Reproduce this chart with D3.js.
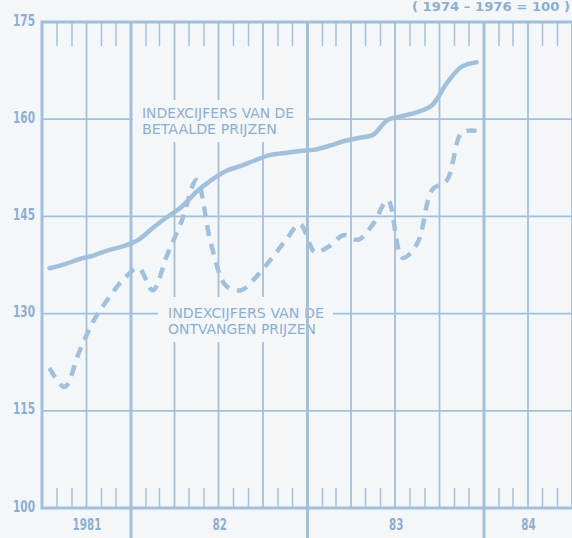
<!DOCTYPE html>
<html>
<head>
<meta charset="utf-8">
<script src="https://d3js.org/d3.v7.min.js"></script>
<style>
  body { margin: 0; background: #f4f7fa; }
  svg { display: block; }
  text { font-family: "Liberation Sans Narrow", "DejaVu Sans Condensed", sans-serif; fill: #8eaecd; }
</style>
</head>
<body>
<svg id="chart" width="572" height="538"></svg>
<script>
// months Jul 1981 .. Dec 1983
var months = ["1981-07", "1981-08", "1981-09", "1981-10", "1981-11", "1981-12",
    "1982-01", "1982-02", "1982-03", "1982-04", "1982-05", "1982-06",
    "1982-07", "1982-08", "1982-09", "1982-10", "1982-11", "1982-12",
    "1983-01", "1983-02", "1983-03", "1983-04", "1983-05", "1983-06",
    "1983-07", "1983-08", "1983-09", "1983-10", "1983-11", "1983-12"];

// indexcijfers betaalde prijzen (solid)
var paid = [137.0, 137.6, 138.4, 139.0, 139.8, 140.4,
    141.4, 143.2, 144.9, 146.5, 148.8, 150.6,
    152.0, 152.8, 153.7, 154.5, 154.8, 155.1,
    155.3, 155.9, 156.6, 157.1, 157.6, 159.9,
    160.5, 161.1, 162.2, 165.6, 168.1, 168.8];

// indexcijfers ontvangen prijzen (dashed)
var received = [121.6, 118.7, 124.1, 129.0, 132.4, 135.3,
    137.0, 133.6, 139.0, 144.3, 150.6, 140.6,
    134.3, 133.6, 135.6, 138.3, 141.2, 143.8,
    139.5, 140.4, 142.1, 141.4, 143.8, 147.5,
    138.6, 140.9, 149.1, 150.6, 157.9, 158.2];

var yTicks = [175, 160, 145, 130, 115, 100];
var yearLabels = [
    { from: "1981-07", to: "1982-01", label: "1981" },
    { from: "1982-01", to: "1983-01", label: "82" },
    { from: "1983-01", to: "1984-01", label: "83" },
    { from: "1984-01", to: "1984-07", label: "84" }
];
var subtitle = "( 1974 \u2013 1976 = 100 )";
var label1 = ["INDEXCIJFERS VAN DE", "BETAALDE PRIJZEN"];
var label2 = ["INDEXCIJFERS VAN DE", "ONTVANGEN PRIJZEN"];

(function () {
    var blue = "#a3c0db";
    var bg = "#f4f7fa";
    var txt = "#8eaecd";

    var svg = d3.select("#chart");
    var parse = d3.timeParse("%Y-%m");

    var mLeft = 42, mRight = 572, mTop = 22, mBottom = 508;

    var x = d3.scaleTime()
        .domain([parse("1981-07"), parse("1984-07")])
        .range([mLeft, mRight]);
    var y = d3.scaleLinear()
        .domain([100, 175])
        .range([mBottom, mTop]);

    function xMid(d) {
        return (x(d) + x(d3.timeMonth.offset(d, 1))) / 2;
    }

    var grid = svg.append("g");

    // horizontal gridlines
    grid.selectAll("line.h")
        .data([160, 145, 130, 115])
        .enter().append("line")
        .attr("x1", mLeft).attr("x2", mRight)
        .attr("y1", function (d) { return y(d); })
        .attr("y2", function (d) { return y(d); })
        .attr("stroke", blue).attr("stroke-width", 1.8);

    // quarter lines
    var quarters = d3.timeMonth.every(3).range(parse("1981-10"), parse("1984-08"));
    grid.selectAll("line.q")
        .data(quarters.filter(function (d) { return d.getMonth() !== 0; }))
        .enter().append("line")
        .attr("x1", function (d) { return x(d); })
        .attr("x2", function (d) { return x(d); })
        .attr("y1", mTop).attr("y2", mBottom)
        .attr("stroke", blue).attr("stroke-width", 1.8);

    // monthly ticks top and bottom
    var monthTicks = d3.timeMonth.range(parse("1981-08"), parse("1984-07"))
        .filter(function (d) { return d.getMonth() % 3 !== 0; });
    grid.selectAll("line.mt")
        .data(monthTicks)
        .enter().append("line")
        .attr("x1", function (d) { return x(d); })
        .attr("x2", function (d) { return x(d); })
        .attr("y1", mTop).attr("y2", mTop + 24)
        .attr("stroke", blue).attr("stroke-width", 1.5);
    grid.selectAll("line.mb")
        .data(monthTicks)
        .enter().append("line")
        .attr("x1", function (d) { return x(d); })
        .attr("x2", function (d) { return x(d); })
        .attr("y1", mBottom - 20).attr("y2", mBottom)
        .attr("stroke", blue).attr("stroke-width", 1.5);

    // label boxes (blank out grid behind text)
    function labelBox(lines, x0, x1, y0, y1, tx, base, widths) {
        grid.append("rect")
            .attr("x", x0).attr("y", y0)
            .attr("width", x1 - x0).attr("height", y1 - y0)
            .attr("fill", bg);
        lines.forEach(function (t, i) {
            svg.append("text")
                .attr("x", tx)
                .attr("y", base + i * 15.5)
                .attr("font-size", 14)
                .attr("textLength", widths[i])
                .attr("lengthAdjust", "spacingAndGlyphs")
                .style("fill", txt)
                .text(t);
        });
    }
    labelBox(label1, 133, 306, 100, 142, 142, 118, [152, 135]);
    labelBox(label2, 158, 333, 297, 342, 168, 318, [156, 148]);

    // frame and year lines
    var frame = svg.append("g");
    frame.append("path")
        .attr("d", "M" + mRight + "," + mTop + "H" + mLeft + "V" + mBottom + "H" + mRight)
        .attr("fill", "none").attr("stroke", blue).attr("stroke-width", 3);
    frame.selectAll("line.y")
        .data(d3.timeYear.range(parse("1982-01"), parse("1984-07")))
        .enter().append("line")
        .attr("x1", function (d) { return x(d); })
        .attr("x2", function (d) { return x(d); })
        .attr("y1", mTop).attr("y2", 538)
        .attr("stroke", blue).attr("stroke-width", 3);

    // y axis labels
    var yAxis = d3.axisLeft(y).tickValues(yTicks).tickSize(0).tickPadding(7);
    var ya = svg.append("g")
        .attr("transform", "translate(" + mLeft + ",-2)")
        .call(yAxis);
    ya.select(".domain").remove();
    ya.selectAll("text")
        .attr("font-family", null)
        .attr("font-size", 16)
        .attr("font-weight", "bold")
        .attr("textLength", 22)
        .attr("lengthAdjust", "spacingAndGlyphs")
        .style("fill", txt);

    // x axis labels (year names centred in each year span)
    var xAxis = d3.axisBottom(x)
        .tickValues(yearLabels.map(function (d) {
            return new Date((parse(d.from).getTime() + parse(d.to).getTime()) / 2);
        }))
        .tickFormat(function (d, i) { return yearLabels[i].label; })
        .tickSize(0).tickPadding(11);
    var xa = svg.append("g")
        .attr("transform", "translate(0," + mBottom + ")")
        .call(xAxis);
    xa.select(".domain").remove();
    xa.selectAll("text")
        .attr("font-family", null)
        .attr("font-size", 16)
        .attr("font-weight", "bold")
        .attr("textLength", function (d, i) { return yearLabels[i].label.length * 7.2; })
        .attr("lengthAdjust", "spacingAndGlyphs")
        .style("fill", txt);

    // subtitle in the top right corner
    svg.append("text")
        .attr("x", 412).attr("y", 11)
        .attr("font-size", 13)
        .attr("font-weight", "bold")
        .attr("textLength", 158)
        .attr("lengthAdjust", "spacingAndGlyphs")
        .style("fill", txt)
        .text(subtitle);

    // lines
    var dates = months.map(parse);
    var line = d3.line()
        .x(function (d, i) { return xMid(dates[i]); })
        .y(function (d) { return y(d); })
        .curve(d3.curveCatmullRom.alpha(0.5));

    svg.append("path")
        .datum(paid)
        .attr("d", line)
        .attr("fill", "none")
        .attr("stroke", blue)
        .attr("stroke-width", 4.5)
        .attr("stroke-linecap", "round")
        .attr("stroke-linejoin", "round");

    svg.append("path")
        .datum(received)
        .attr("d", line)
        .attr("fill", "none")
        .attr("stroke", blue)
        .attr("stroke-width", 4.5)
        .attr("stroke-dasharray", "11,8")
        .attr("stroke-linejoin", "round");
})();
</script>
</body>
</html>
